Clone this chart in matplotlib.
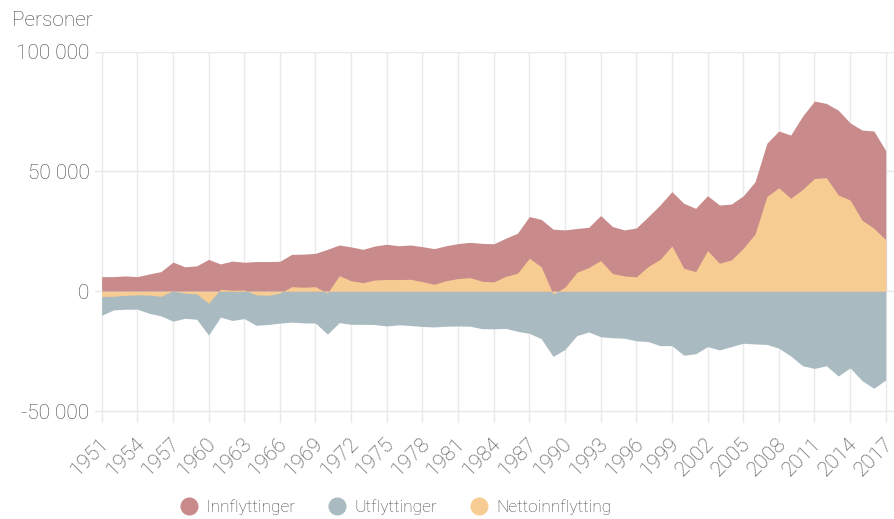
# -*- coding: utf-8 -*-

import numpy as np
import matplotlib
matplotlib.use("Agg")
import matplotlib.pyplot as plt
import matplotlib.ticker as tck
import matplotlib.transforms as trf
from matplotlib.lines import Line2D

# Datos ------------------------------------------------------------------------

years = np.arange(1951, 2018)

innflyttinger = [6100, 6100, 6400, 6100, 7200, 8200, 12200, 10200, 10600, 13300,
                 11400, 12600, 12100, 12400, 12400, 12500, 15400, 15500, 15800, 17500,
                 19300, 18500, 17500, 18900, 19600, 19000, 19300, 18600, 17800, 19000,
                 19900, 20400, 20000, 19800, 22100, 24200, 31200, 30000, 25900, 25600,
                 26200, 26700, 31600, 27000, 25600, 26400, 31100, 36000, 41600, 36700,
                 34600, 39900, 36000, 36400, 39800, 45700, 61800, 66900, 65200, 73100,
                 79400, 78400, 75600, 70300, 67300, 66900, 58700]

utflyttinger = [-10000, -7800, -7500, -7500, -9200, -10300, -12500, -11300, -11700, -18300,
                -10800, -12200, -11400, -14200, -13900, -13300, -12900, -13200, -13300, -17900,
                -13100, -13800, -13800, -13900, -14500, -14000, -14300, -14700, -14900, -14600,
                -14500, -14600, -15600, -15700, -15500, -16700, -17600, -19800, -27200, -24300,
                -18500, -17000, -19000, -19400, -19600, -20700, -21000, -22700, -22700, -26700,
                -26100, -23100, -24500, -23100, -21700, -22000, -22200, -23800, -27000, -31100,
                -32200, -31100, -35400, -32000, -37300, -40500, -37000]

netto = [-2200, -2100, -1700, -1500, -1600, -2100, 100, -800, -1100, -5000,
         800, 400, 550, -1500, -1700, -800, 1900, 1700, 1900, -800,
         6500, 4400, 3600, 4700, 4900, 4900, 5000, 4000, 2900, 4400,
         5300, 5700, 4200, 3900, 6200, 7500, 13800, 10200, -1200, 1700,
         7900, 9900, 12800, 7400, 6400, 6000, 10300, 13300, 18900, 9600,
         8200, 17000, 11700, 13100, 17900, 23900, 39600, 43200, 38800, 42500,
         47100, 47400, 40200, 38100, 29700, 26300, 21500]

labels = ["Innflyttinger", "Utflyttinger", "Nettoinnflytting"]
yticks = [-50000, 0, 50000, 100000]

# Colores
c_inn = "#c88a8a"
c_ut = "#a9bbc1"
c_net = "#f6cc92"
c_txt = "#444444"
c_grid = "#e9e9e9"

plt.rcParams['font.family'] = ['Roboto', 'Liberation Sans', 'DejaVu Sans']
plt.rcParams['font.weight'] = 'light'

# Figura -----------------------------------------------------------------------

fig = plt.figure(figsize=(8.95, 5.19), dpi=100)
ax = fig.add_axes([95/895, 1 - 423/519, 800/895, (423 - 51.7)/519])

ax.fill_between(years, 0, innflyttinger, color=c_inn, linewidth=0, zorder=2)
ax.fill_between(years, 0, utflyttinger, color=c_ut, linewidth=0, zorder=2)
ax.fill_between(years, 0, netto, color=c_net, linewidth=0, zorder=3)

ax.set_xlim(1950.44, 2017.78)
ax.set_ylim(-55000, 100000)

ax.set_xticks(np.arange(1951, 2018, 3))
ax.set_yticks(yticks)
ax.yaxis.set_major_formatter(tck.FuncFormatter(lambda v, p: "{:,.0f}".format(v).replace(",", " ")))

ax.grid(True, color=c_grid, linewidth=1, zorder=0)
ax.set_axisbelow(True)
for s in ax.spines.values():
    s.set_visible(False)

ax.tick_params(axis='both', length=0, labelsize=15, labelcolor=c_txt)
ax.tick_params(axis='y', pad=4)
ax.tick_params(axis='x', pad=13)

offset = trf.ScaledTranslation(4/100, 0, fig.dpi_scale_trans)
for lab in ax.get_xticklabels():
    lab.set_rotation(45)
    lab.set_ha('right')
    lab.set_va('center')
    lab.set_rotation_mode('anchor')
    lab.set_transform(lab.get_transform() + offset)

fig.text(12/895, 1 - 20/519, "Personer", fontsize=15, color=c_txt, va='center', ha='left')

handles = [Line2D([], [], marker='o', linestyle='none', markersize=13, markerfacecolor=c, markeredgewidth=0)
           for c in (c_inn, c_ut, c_net)]
fig.legend(handles, labels, loc='center', bbox_to_anchor=(396/895, 1 - 507/519), ncol=3,
           frameon=False, fontsize=12.5, labelcolor=c_txt, handletextpad=0.5, columnspacing=1.9,
           handlelength=1.0)

fig.savefig("out.png", dpi=100)
